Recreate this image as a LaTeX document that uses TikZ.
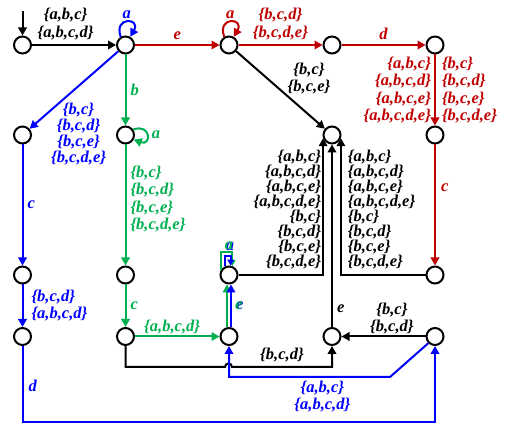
\documentclass[tikz,border=0pt]{standalone}
\usepackage{fontspec}
\setmainfont{Liberation Serif}
\usetikzlibrary{arrows.meta}
\usetikzlibrary{positioning}
\definecolor{cblue}{RGB}{0,0,255}
\definecolor{cred}{RGB}{192,0,0}
\definecolor{cgreen}{RGB}{0,176,80}
\newcommand{\twotone}[1]{\rlap{\kern0.9pt\raisebox{-0.6pt}{\color{cblue}#1}}{\color{cgreen}#1}}

\begin{document}
\begin{tikzpicture}[x=1pt,y=1pt]
	\tikzstyle{st}=[circle,draw,line width=2pt,minimum size=17pt,inner sep=0pt,fill=white]
	\tikzstyle{tr}=[line width=2pt,-{Triangle[length=8pt,width=8.5pt]}]
	\tikzstyle{sm}=[line width=2pt,-{Triangle[length=6pt,width=6.5pt]}]
	\tikzstyle{lb}=[font=\fontsize{16.5}{17.5}\selectfont\bfseries\itshape,inner sep=1pt]
	\tikzstyle{lbt}=[lb,font=\fontsize{16.5}{15}\selectfont\bfseries\itshape]

	\useasboundingbox (0,0) rectangle (509,425);

	% states
	\node[st] (s1) at (22.5,380) {};
	\node[st] (s2) at (125.5,380) {};
	\node[st] (s3) at (229,380) {};
	\node[st] (s4) at (332,380) {};
	\node[st] (s5) at (435,380) {};
	\node[st] (s6) at (22.5,290) {};
	\node[st] (s7) at (125.5,290) {};
	\node[st] (s8) at (332,290) {};
	\node[st] (s9) at (435,290) {};
	\node[st] (s10) at (22.5,150) {};
	\node[st] (s11) at (125.5,150) {};
	\node[st] (s12) at (229,150) {};
	\node[st] (s13) at (435,150) {};
	\node[st] (s14) at (22.5,88.5) {};
	\node[st] (s15) at (125.5,88.5) {};
	\node[st] (s16) at (229,88.5) {};
	\node[st] (s17) at (332,88.5) {};
	\node[st] (s18) at (435,88.5) {};
	\coordinate[above=24pt of s1] (s0);

	% black
	\draw[tr] (s0) -- (s1);
	\draw[tr] (s1) -- node[lb,pos=0.4,above=3pt,align=center] (l12) {\{a,b,c\}\\\{a,b,c,d\}} (s2);
	\draw[tr] (s3) -- node[lb,pos=0.57,anchor=south west,inner sep=0pt,align=center] (l38) {\{b,c\}\\\{b,c,e\}} (s8);
	\draw[tr] (s12) -| (s8.200) node[lbt,pos=0.74,left=0pt,align=right] (l128) {\{a,b,c\}\\\{a,b,c,d\}\\\{a,b,c,e\}\\\{a,b,c,d,e\}\\\{b,c\}\\\{b,c,d\}\\\{b,c,e\}\\\{b,c,d,e\}};
	\draw[tr] (s13) -| (s8.340) node[lbt,pos=0.74,right=5pt,align=left] (l138) {\{a,b,c\}\\\{a,b,c,d\}\\\{a,b,c,e\}\\\{a,b,c,d,e\}\\\{b,c\}\\\{b,c,d\}\\\{b,c,e\}\\\{b,c,d,e\}};
	\draw[tr] (s17) -- node[lb,pos=0.1,right=3pt] (l178) {e} (s8);
	\draw[tr] (s18) -- node[lb,pos=0.4,above=0pt,align=center] (l1817) {\{b,c\}\\\{b,c,d\}} (s17);
	\draw[tr] (s15) |- (225,58) arc (180:0:3.5) -| node[lb,pos=0.25,above=3pt] (l1517) {\{b,c,d\}} (s17);

	% red
	\draw[tr,cred] (s2) -- node[lb,above=3pt] (l23) {e} (s3);
	\draw[tr,cred] (s3.120) to[out=110,in=60,distance=22pt] node[lb,above=1.5pt] (l33) {a} (s3.60);
	\draw[tr,cred] (s3) -- node[lb,above=3pt,align=center] (l34) {\{b,c,d\}\\\{b,c,d,e\}} (s4);
	\draw[tr,cred] (s4) -- node[lb,above=3pt] (l45) {d} (s5);
	\draw[tr,cred] (s5) -- node[lb,left=2pt,align=right] (l59a) {\{a,b,c\}\\\{a,b,c,d\}\\\{a,b,c,e\}\\\{a,b,c,d,e\}}
		node[lb,right=5pt,align=left] (l59b) {\{b,c\}\\\{b,c,d\}\\\{b,c,e\}\\\{b,c,d,e\}} (s9);
	\draw[tr,cred] (s9) -- node[lb,pos=0.36,right=4pt] (l913) {c} (s13);

	% blue
	\draw[tr,cblue] (s2.120) to[out=110,in=60,distance=22pt] node[lb,above=1.5pt] (l22) {a} (s2.60);
	\draw[tr,cblue] (s2) -- node[lb,font=\fontsize{16.5}{16}\selectfont\bfseries\itshape,pos=0.64,anchor=north,xshift=17pt,align=center] (l26) {\{b,c\}\\\{b,c,d\}\\\{b,c,e\}\\\{b,c,d,e\}} (s6);
	\draw[tr,cblue] (s6) -- node[lb,right=3pt] (l610) {c} (s10);
	\draw[tr,cblue] (s10) -- node[lb,right=7pt,align=left] (l1014) {\{b,c,d\}\\\{a,b,c,d\}} (s14);
	\draw[tr,cblue] (s14) -- node[lb,pos=0.53,right=4pt] (l1418) {d} (22.5,3) -| (s18);
	\draw[tr,cblue] (s18.225) -- (390,48) -| node[lb,pos=0.21,below=2pt,align=center] (l1816) {\{a,b,c\}\\\{a,b,c,d\}} (s16);

	% green
	\draw[tr,cgreen] (s2) -- node[lb,right=3pt] (l27) {b} (s7);
	\draw[tr,cgreen] (s7.35) to[out=20,in=-20,distance=19pt] node[lb,right=3pt] (l77) {a} (s7.-30);
	\draw[tr,cgreen] (s7) -- node[lb,pos=0.45,right=3pt,align=left] (l711) {\{b,c\}\\\{b,c,d\}\\\{b,c,e\}\\\{b,c,d,e\}} (s11);
	\draw[tr,cgreen] (s11) -- node[lb,right=3pt] (l1115) {c} (s15);
	\draw[tr,cgreen] (s15) -- node[lb,pos=0.44,above=0pt] (l1516) {\{a,b,c,d\}} (s16);

	% e and a, green and blue together
	\draw[tr,line width=2.2pt,cgreen] ([xshift=-2pt]s16.north) -- ([xshift=-2pt]s12.south);
	\draw[tr,line width=2.2pt,cblue] ([xshift=2pt]s16.north) -- node[lb,pos=0.5,right=2pt] (l1612) {\twotone{e}} ([xshift=2pt]s12.south);
	\draw[sm,cgreen] (s12.150) |- ([yshift=14pt]s12.70) -- (s12.70);
	\draw[sm,cblue] (s12.115) |- ([yshift=10pt]s12.80) -- (s12.80);
	\node[lb,above=0pt of s12.north,yshift=14pt] (l1212) {\twotone{a}};
\end{tikzpicture}
\end{document}
